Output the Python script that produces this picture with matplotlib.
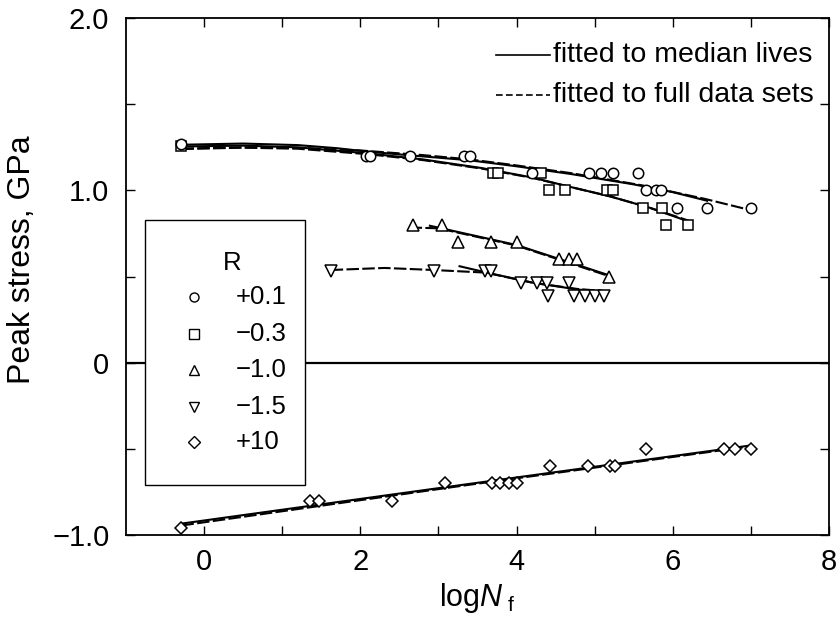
import matplotlib
matplotlib.use('Agg')
import matplotlib.pyplot as plt
from matplotlib.patches import Rectangle

plt.rcParams['font.family'] = ['Liberation Sans', 'DejaVu Sans']
plt.rcParams['mathtext.fontset'] = 'custom'
plt.rcParams['mathtext.rm'] = 'Liberation Sans'
plt.rcParams['mathtext.it'] = 'Liberation Sans:italic'

# measured points, logNf vs peak stress (GPa)
r01_x = [-0.29, 2.07, 2.13, 2.63, 3.33, 3.40, 4.20, 4.93, 5.08, 5.24, 5.56,
         5.66, 5.78, 5.85, 6.05, 6.44, 7.00]
r01_y = [1.27, 1.20, 1.20, 1.20, 1.20, 1.20, 1.10, 1.10, 1.10, 1.10, 1.10,
         1.00, 1.00, 1.00, 0.90, 0.90, 0.90]
r03_x = [-0.29, 3.70, 3.76, 4.31, 4.41, 4.62, 5.16, 5.23, 5.62, 5.86, 5.91, 6.20]
r03_y = [1.255, 1.10, 1.10, 1.10, 1.00, 1.00, 1.00, 1.00, 0.90, 0.90, 0.80, 0.80]
r10_x = [2.68, 3.04, 3.25, 3.67, 4.01, 4.54, 4.67, 4.77, 5.18]
r10_y = [0.80, 0.80, 0.70, 0.70, 0.70, 0.60, 0.60, 0.60, 0.50]
r15_x = [1.62, 2.94, 3.60, 3.67, 4.06, 4.26, 4.39, 4.40, 4.67, 4.74, 4.88, 5.00, 5.12]
r15_y = [0.53, 0.53, 0.53, 0.53, 0.46, 0.46, 0.46, 0.39, 0.46, 0.39, 0.39, 0.39, 0.39]
rp10_x = [-0.29, 1.36, 1.47, 2.40, 3.08, 3.68, 3.79, 3.90, 4.01, 4.43, 4.91,
          5.19, 5.26, 5.66, 6.66, 6.79, 7.00]
rp10_y = [-0.96, -0.80, -0.80, -0.80, -0.70, -0.70, -0.70, -0.70, -0.70, -0.60,
          -0.60, -0.60, -0.60, -0.50, -0.50, -0.50, -0.50]

# fitted curves
med01_x = [-0.29, 0.5, 1.2, 1.7, 2.1, 2.6, 3.4, 4.0, 4.7, 5.5, 6.0, 6.44]
med01_y = [1.265, 1.272, 1.263, 1.245, 1.225, 1.205, 1.175, 1.14, 1.095, 1.035, 0.99, 0.94]
full01_x = [-0.29, 0.5, 1.2, 2.0, 2.8, 3.4, 4.0, 4.7, 5.6, 6.4, 7.0]
full01_y = [1.243, 1.25, 1.247, 1.232, 1.205, 1.18, 1.145, 1.10, 1.03, 0.952, 0.885]
med03_x = [-0.29, 0.5, 1.2, 2.1, 2.8, 3.55, 4.2, 4.69, 5.2, 5.7, 6.2]
med03_y = [1.255, 1.26, 1.25, 1.215, 1.18, 1.13, 1.075, 1.02, 0.965, 0.90, 0.82]
full03_x = [-0.29, 0.5, 1.2, 2.1, 2.8, 3.55, 4.2, 4.69, 5.2, 5.7, 6.2]
full03_y = [1.24, 1.248, 1.242, 1.21, 1.176, 1.127, 1.073, 1.02, 0.965, 0.90, 0.825]
med10_x = [2.89, 4.0, 5.2]
med10_y = [0.795, 0.683, 0.505]
full10_x = [2.63, 3.0, 4.0, 5.2]
full10_y = [0.785, 0.78, 0.68, 0.50]
med15_x = [3.27, 3.6, 4.2, 4.78, 5.15]
med15_y = [0.56, 0.525, 0.465, 0.425, 0.41]
full15_x = [1.62, 2.31, 2.94, 3.6, 4.22, 4.78, 5.15]
full15_y = [0.538, 0.55, 0.538, 0.523, 0.463, 0.428, 0.415]
medp10_x = [-0.29, 3.29, 7.0]
medp10_y = [-0.934, -0.71, -0.48]
fullp10_x = [-0.29, 3.29, 7.0]
fullp10_y = [-0.945, -0.715, -0.485]

r_labels = ['+0.1', '\u22120.3', '\u22121.0', '\u22121.5', '+10']
markers = ['o', 's', '^', 'v', 'D']
sizes = [7.5, 7, 8, 8, 6.5]

fig = plt.figure(figsize=(8.37, 6.25), dpi=100)
ax = fig.add_axes([0.1505, 0.144, 0.840, 0.827])

ax.axhline(0, color='black', lw=1.6, zorder=1)

dash = (0, (6, 1.6))
curves = [(med01_x, med01_y, full01_x, full01_y),
          (med03_x, med03_y, full03_x, full03_y),
          (med10_x, med10_y, full10_x, full10_y),
          (med15_x, med15_y, full15_x, full15_y),
          (medp10_x, medp10_y, fullp10_x, fullp10_y)]
for mx, my, fx, fy in curves:
    ax.plot(fx, fy, color='black', lw=1.5, linestyle=dash, zorder=2)
    ax.plot(mx, my, color='black', lw=1.5, zorder=2)

series = [(r01_x, r01_y), (r03_x, r03_y), (r10_x, r10_y), (r15_x, r15_y), (rp10_x, rp10_y)]
# draw in reverse so the circles sit on top of the squares
for (sx, sy), m, s in list(zip(series, markers, sizes))[::-1]:
    ax.plot(sx, sy, linestyle='none', marker=m, ms=s, mfc='white', mec='black',
            mew=1.1, zorder=3)

ax.set_xlim(-1, 8)
ax.set_ylim(-1, 2)
ax.set_xticks([0, 2, 4, 6, 8])
ax.set_xticks([1, 3, 5, 7], minor=True)
ax.set_yticks([-1, -0.5, 0, 0.5, 1, 1.5, 2])
ax.set_yticklabels(['\u22121.0', '', '0', '', '1.0', '', '2.0'])
ax.tick_params(which='both', direction='in', top=True, right=True, length=6.5,
               width=1.0, labelsize=21)
ax.tick_params(axis='x', pad=9)
ax.tick_params(axis='y', pad=12)
for sp in ax.spines.values():
    sp.set_linewidth(1.3)

ax.set_xlabel(r'log$\mathit{N}_{\ \mathrm{f}}$', fontsize=22, labelpad=4)
ax.set_ylabel('Peak stress, GPa', fontsize=23)
ax.yaxis.set_label_coords(-0.127, 0.532)

# R legend box
ax.add_patch(Rectangle((0.027, 0.0967), 0.2276, 0.5126, transform=ax.transAxes,
                       facecolor='white', edgecolor='black', lw=1.0, zorder=5))
ax.text(0.151, 0.526, 'R', transform=ax.transAxes, fontsize=18.5, ha='center',
        va='center', zorder=6)
rows = [0.460, 0.389, 0.319, 0.248, 0.180]
for yy, m, lab in zip(rows, markers, r_labels):
    ax.plot([0.0967], [yy], transform=ax.transAxes, marker=m, ms=6.5, mfc='white',
            mec='black', mew=1.0, linestyle='none', zorder=6, clip_on=False)
    ax.text(0.1565, yy, lab, transform=ax.transAxes, fontsize=18.5, ha='left',
            va='center', zorder=6)

# line style key
ax.plot([0.527, 0.603], [0.929, 0.929], transform=ax.transAxes, color='black', lw=1.2)
ax.plot([0.527, 0.603], [0.852, 0.852], transform=ax.transAxes, color='black', lw=1.2,
        linestyle=(0, (4, 2)))
ax.text(0.608, 0.929, 'fitted to median lives', transform=ax.transAxes, fontsize=20.5,
        ha='left', va='center')
ax.text(0.608, 0.852, 'fitted to full data sets', transform=ax.transAxes, fontsize=20.5,
        ha='left', va='center')

fig.savefig('out.png', dpi=100)
